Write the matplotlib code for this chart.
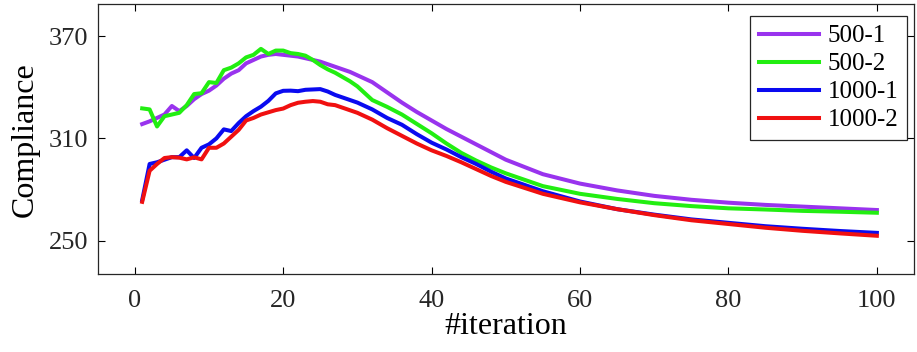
import matplotlib
matplotlib.use("Agg")
from matplotlib import pyplot as plt

iters = list(range(1, 31)) + list(range(32, 51, 2)) + list(range(55, 101, 5))

c500_1 = [318.4, 320, 322, 324, 329, 326, 329, 333, 336, 338,
          341, 345, 348, 350, 354, 356, 358, 359, 359.5, 359,
          358.5, 358, 357, 356, 355, 353.5, 352, 350.5, 349, 347,
          343, 337, 331, 325.5, 320.5, 315.5, 311, 306.5, 302, 297.5,
          289, 283.5, 279.5, 276.3, 274, 272.3, 271, 270, 269, 268]
c500_2 = [327.6, 327, 317, 323, 324, 325, 329.5, 336, 336.5, 343,
          342.5, 350, 351.5, 354, 357.5, 359, 362.5, 359.5, 361.5, 361.5,
          360, 359.5, 358.5, 356, 353, 350.5, 348.5, 346, 343.5, 340.5,
          332.5, 328.5, 324, 318.5, 313, 307, 301.5, 297, 293, 289.5,
          282, 277.5, 274.5, 272, 270.3, 269, 268.3, 267.5, 267, 266.4]
c1000_1 = [273.8, 295, 296, 297.5, 299, 299, 303, 298.5, 304.5, 306.5,
           310, 315.3, 314.3, 319, 323, 326, 328.6, 332, 336.4, 337.9,
           338, 337.7, 338.5, 338.7, 338.9, 337.5, 335.5, 334, 332.5, 331,
           327, 322, 318, 312.5, 307.5, 303.5, 299, 295, 290.5, 286.5,
           279, 273, 268.5, 265.3, 262.5, 260.5, 258.5, 257, 255.7, 254.6]
c1000_2 = [272.8, 291, 295, 298.5, 299, 298.7, 297.7, 298.9, 297.7, 304.5,
           304.5, 307, 311, 315, 320.5, 322, 324, 325.3, 326.6, 327.5,
           329.5, 330.9, 331.5, 331.9, 331.5, 330, 329.5, 328, 326.5, 325,
           321, 316, 311.5, 307, 303, 299.7, 296, 292, 288, 284.5,
           277.5, 272.5, 268.5, 265, 262, 259.8, 257.6, 255.8, 254.3, 252.9]

labels = ["500-1", "500-2", "1000-1", "1000-2"]
colors = ["#9933ee", "#22ee11", "#0a0af0", "#f01010"]

plt.rcParams["font.family"] = ["Liberation Serif", "DejaVu Serif"]

fig = plt.figure(figsize=(9.17, 3.52), dpi=100)
ax = fig.add_axes([0.1065, 0.2207, 0.8902, 0.7679])

for ys, lab, col in zip([c500_1, c500_2, c1000_1, c1000_2], labels, colors):
    ax.plot(iters, ys, color=col, lw=2.9, label=lab)

ax.set_xlim(-5, 105)
ax.set_ylim(230.3, 388.8)
ax.set_xticks([0, 20, 40, 60, 80, 100])
ax.set_yticks([250, 310, 370])
ax.tick_params(direction="in", top=True, right=True, length=5, width=0.8,
               labelsize=19, labelcolor="#262626", pad=11)
ax.tick_params(axis="y", pad=7)
for s in ax.spines.values():
    s.set_linewidth(0.9)
    s.set_color("#262626")

ax.set_xlabel("#iteration", fontsize=23, labelpad=0)
ax.set_ylabel("Compliance", fontsize=23, labelpad=6)

leg = ax.legend(loc="upper right", bbox_to_anchor=(0.9914, 0.9556),
                borderaxespad=0, fontsize=18, fancybox=False, framealpha=1,
                edgecolor="#262626", labelspacing=0.22, borderpad=0.35,
                handlelength=2.4, handletextpad=0.35)
leg.get_frame().set_linewidth(0.9)

fig.savefig("out.png", dpi=100)
